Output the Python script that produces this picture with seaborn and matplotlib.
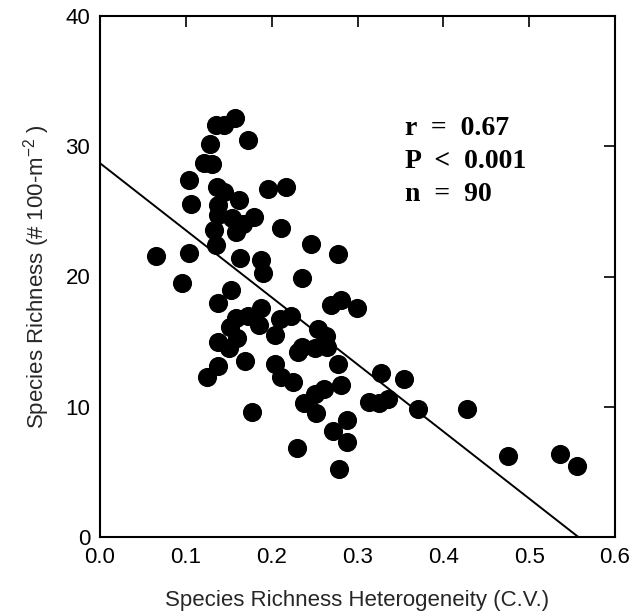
import matplotlib
matplotlib.use("Agg")
import matplotlib.pyplot as plt
import seaborn as sns
import numpy as np
import pandas as pd

# Data
heterogeneity = [
    0.157, 0.135, 0.144, 0.172, 0.128, 0.121, 0.131, 0.104, 0.136, 0.144,
    0.106, 0.162, 0.138, 0.196, 0.217, 0.211, 0.179, 0.137, 0.154, 0.158,
    0.167, 0.133, 0.135, 0.065, 0.104, 0.163, 0.188, 0.190, 0.096, 0.246,
    0.277, 0.235, 0.153, 0.138, 0.188, 0.223, 0.210, 0.173, 0.158, 0.152,
    0.185, 0.204, 0.160, 0.138, 0.150, 0.231, 0.169, 0.138, 0.125, 0.204,
    0.211, 0.225, 0.177, 0.269, 0.281, 0.299, 0.235, 0.254, 0.263, 0.250,
    0.265, 0.277, 0.327, 0.261, 0.281, 0.250, 0.238, 0.252, 0.313, 0.325,
    0.336, 0.288, 0.271, 0.288, 0.230, 0.279, 0.354, 0.371, 0.427, 0.475,
    0.536, 0.556,
]
richness = [
    32.2, 31.6, 31.6, 30.5, 30.2, 28.7, 28.6, 27.4, 26.9, 26.5,
    25.6, 25.9, 25.5, 26.7, 26.9, 23.7, 24.6, 24.7, 24.5, 23.4,
    24.0, 23.6, 22.4, 21.6, 21.8, 21.4, 21.3, 20.3, 19.5, 22.5,
    21.7, 19.9, 19.0, 18.0, 17.6, 17.0, 16.7, 17.0, 16.8, 16.1,
    16.3, 15.5, 15.3, 15.0, 14.5, 14.2, 13.5, 13.1, 12.3, 13.3,
    12.3, 11.9, 9.6, 17.8, 18.2, 17.6, 14.6, 16.0, 15.4, 14.5,
    14.6, 13.3, 12.6, 11.4, 11.7, 11.0, 10.3, 9.5, 10.4, 10.3,
    10.6, 9.0, 8.1, 7.3, 6.8, 5.2, 12.1, 9.8, 9.8, 6.2,
    6.4, 5.45,
]
fit_intercept = 28.7
fit_slope = -51.5
stats_lines = ["r  =  0.67", "P  <  0.001", "n  =  90"]
x_ticks = [0.0, 0.1, 0.2, 0.3, 0.4, 0.5, 0.6]
y_ticks = [0, 10, 20, 30, 40]

sns.set_style("white")
plt.rcParams['font.family'] = ['Liberation Sans', 'DejaVu Sans']

df = pd.DataFrame({"x": heterogeneity, "y": richness})
x_end = -fit_intercept / fit_slope
line_df = pd.DataFrame({"x": [0.0, x_end],
                        "y": [fit_intercept, fit_intercept + fit_slope * x_end]})

fig = plt.figure(figsize=(6.34, 6.16), dpi=100)
ax = fig.add_axes([100 / 634, 1 - 537 / 616, 515 / 634, 521 / 616])

sns.lineplot(data=line_df, x="x", y="y", ax=ax, color="black", linewidth=1.4)
sns.scatterplot(data=df, x="x", y="y", ax=ax, color="black", s=190,
                edgecolor="black", linewidth=0, zorder=3)

ax.set_xlim(0, 0.6)
ax.set_ylim(0, 40)
ax.set_xticks(x_ticks)
ax.set_xticklabels([f"{t:.1f}" for t in x_ticks])
ax.set_yticks(y_ticks)
ax.set_yticklabels([str(t) for t in y_ticks])
ax.tick_params(direction="in", length=8, width=1.2, top=True, right=True,
               labelsize=16, pad=7, colors="black")
for sp in ax.spines.values():
    sp.set_color("black")
    sp.set_linewidth(1.5)

ax.set_xlabel("Species Richness Heterogeneity (C.V.)", fontsize=16, labelpad=16)
ax.set_ylabel(r"Species Richness (# 100-m$^{\mathregular{-2}}$ )", fontsize=16, labelpad=10)

for i, s in enumerate(stats_lines):
    ax.text(0.355, 31.4 - i * 2.57, s, fontsize=20, fontweight="bold",
            family=["Liberation Serif"], ha="left", va="center", color="black")

fig.savefig("out.png", dpi=100)
